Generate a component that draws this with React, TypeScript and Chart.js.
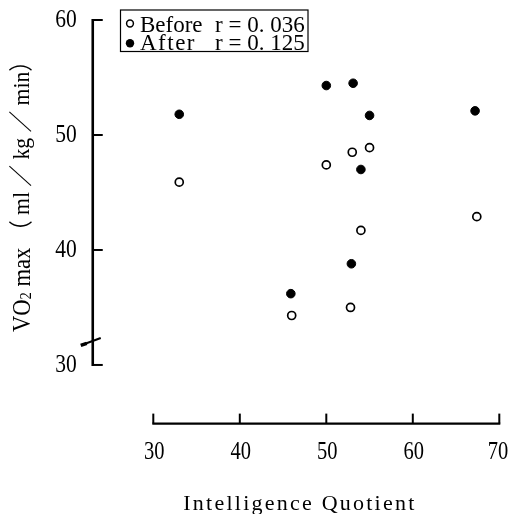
import React, { useEffect, useRef } from "react";
import { Chart, registerables } from "chart.js";

Chart.register(...registerables);

// ---- data ----
const IQ_BEFORE = [33, 46, 50, 52.8, 53, 54, 55, 67.4];
const VO2_BEFORE = [45.9, 34.3, 47.4, 35.0, 48.5, 41.7, 48.9, 42.9];
const IQ_AFTER = [33, 45.9, 50, 52.9, 53.1, 54, 55, 67.2];
const VO2_AFTER = [51.8, 36.2, 54.3, 38.8, 54.5, 47.0, 51.7, 52.1];
const X_TICKS = [30, 40, 50, 60, 70];
const Y_TICKS = [30, 40, 50, 60];
const SERIES_NAMES = ["Before", "After"];
const R_LABELS = ["r = 0. 036", "r = 0. 125"];
const X_TITLE = "Intelligence Quotient";
const Y_BREAK = 32;

const FONT = '"Liberation Serif", "DejaVu Serif", serif';
const CJK = '"Liberation Serif", "Noto Sans CJK JP", serif';

function fitText(
  ctx: CanvasRenderingContext2D,
  text: string,
  x: number,
  y: number,
  size: number,
  width: number,
  align: "left" | "center" | "right",
  baseline: CanvasTextBaseline
) {
  ctx.save();
  ctx.font = `${size}px ${FONT}`;
  ctx.textBaseline = baseline;
  ctx.textAlign = "left";
  const w = ctx.measureText(text).width;
  const s = width / w;
  let x0 = x;
  if (align === "center") x0 = x - width / 2;
  if (align === "right") x0 = x - width;
  ctx.translate(x0, y);
  ctx.scale(s, 1);
  ctx.fillText(text, 0, 0);
  ctx.restore();
}

function line(ctx: CanvasRenderingContext2D, x1: number, y1: number, x2: number, y2: number) {
  ctx.beginPath();
  ctx.moveTo(x1, y1);
  ctx.lineTo(x2, y2);
  ctx.stroke();
}

const axesPlugin = {
  id: "customAxes",
  afterDraw(chart: any) {
    const { ctx, chartArea: a, scales } = chart;
    const x = scales.x;
    const y = scales.y;
    ctx.save();
    ctx.strokeStyle = "#000";
    ctx.fillStyle = "#000";
    ctx.lineCap = "butt";

    // Y axis
    const xl = a.left;
    const yTop = y.getPixelForValue(Y_TICKS[Y_TICKS.length - 1]);
    const yBot = y.getPixelForValue(Y_TICKS[0]);
    ctx.lineWidth = 2.6;
    line(ctx, xl, yTop - 1, xl, yBot + 1);
    ctx.lineWidth = 2;
    for (const t of Y_TICKS) {
      const py = y.getPixelForValue(t);
      line(ctx, xl, py, xl + 10, py);
      const txt = String(t);
      ctx.font = `25px ${FONT}`;
      const w = ctx.measureText(txt).width * 0.86;
      fitText(ctx, txt, xl - 16, py, 25, w, "right", "middle");
    }
    // axis break mark
    const pb = y.getPixelForValue(Y_BREAK);
    ctx.lineWidth = 2;
    line(ctx, xl - 11, pb + 3, xl + 8, pb - 4);
    ctx.lineWidth = 3.5;
    line(ctx, xl - 12, pb + 3.5, xl - 6, pb + 1.5);

    // X axis (detached)
    const xa = a.bottom;
    const xL = x.getPixelForValue(X_TICKS[0]);
    const xR = x.getPixelForValue(X_TICKS[X_TICKS.length - 1]);
    ctx.lineWidth = 2.2;
    line(ctx, xL - 1, xa, xR + 1, xa);
    ctx.lineWidth = 2;
    for (const t of X_TICKS) {
      const px = x.getPixelForValue(t);
      line(ctx, px, xa, px, xa - 10);
      const txt = String(t);
      ctx.font = `25px ${FONT}`;
      const w = ctx.measureText(txt).width * 0.82;
      fitText(ctx, txt, Math.min(px + 1, 490), xa + 28.5, 25, w, "center", "middle");
    }
    // X title (letter-spaced)
    ctx.save();
    ctx.font = `22px ${FONT}`;
    const nat = ctx.measureText(X_TITLE).width;
    const ls = (231 - nat) / (X_TITLE.length - 1);
    (ctx as any).letterSpacing = `${ls}px`;
    ctx.textAlign = "left";
    ctx.textBaseline = "alphabetic";
    ctx.fillText(X_TITLE, 290.8 - 231 / 2, 502);
    ctx.restore();

    // Y title (rotated)
    ctx.save();
    ctx.translate(15, 183);
    ctx.rotate(-Math.PI / 2);
    const segs = [
      { t: "VO", f: `25px ${FONT}`, dy: 0 },
      { t: "2", f: `16px ${FONT}`, dy: 4 },
      { t: " max ", f: `25px ${FONT}`, dy: 0 },
      { t: "（ ml ／ kg ／ min）", f: `24px ${CJK}`, dy: 0 },
    ];
    let total = 0;
    const ws: number[] = [];
    for (const s of segs) {
      ctx.font = s.f;
      const w = ctx.measureText(s.t).width;
      ws.push(w);
      total += w;
    }
    const sc = 282 / total;
    ctx.scale(sc, 1);
    ctx.textBaseline = "middle";
    ctx.textAlign = "left";
    let cx = -total / 2;
    segs.forEach((s, i) => {
      ctx.font = s.f;
      ctx.fillText(s.t, cx, s.dy);
      cx += ws[i];
    });
    ctx.restore();

    // Legend box
    ctx.lineWidth = 1.2;
    ctx.strokeRect(112.5, 2, 187.5, 41.5);
    const rows = [23.7, 42];
    // markers
    ctx.lineWidth = 1.5;
    ctx.beginPath();
    ctx.arc(122, 15.5, 3.4, 0, Math.PI * 2);
    ctx.fillStyle = "#fff";
    ctx.fill();
    ctx.stroke();
    ctx.fillStyle = "#000";
    ctx.beginPath();
    ctx.arc(122, 35.3, 4.2, 0, Math.PI * 2);
    ctx.fill();
    ctx.font = `23px ${FONT}`;
    ctx.textAlign = "left";
    ctx.textBaseline = "alphabetic";
    SERIES_NAMES.forEach((n, i) => {
      ctx.save();
      if (i === 1) (ctx as any).letterSpacing = "1.5px";
      ctx.fillText(n, 132, rows[i]);
      ctx.restore();
      ctx.fillText(R_LABELS[i], 207, rows[i]);
    });

    ctx.restore();
  },
};

export default function App() {
  const ref = useRef<HTMLCanvasElement>(null);
  useEffect(() => {
    if (!ref.current) return;
    const chart = new Chart(ref.current, {
      type: "scatter",
      data: {
        datasets: [
          {
            label: SERIES_NAMES[0],
            data: IQ_BEFORE.map((v, i) => ({ x: v, y: VO2_BEFORE[i] })),
            pointRadius: 4,
            pointBackgroundColor: "#fff",
            pointBorderColor: "#000",
            pointBorderWidth: 1.7,
            clip: false as any,
          },
          {
            label: SERIES_NAMES[1],
            data: IQ_AFTER.map((v, i) => ({ x: v, y: VO2_AFTER[i] })),
            pointRadius: 4.3,
            pointBackgroundColor: "#000",
            pointBorderColor: "#000",
            pointBorderWidth: 1,
            clip: false as any,
          },
        ],
      },
      options: {
        animation: false,
        responsive: false,
        layout: { padding: { left: 84.75, right: 10.7, top: 12, bottom: 90.4 } },
        scales: {
          x: { type: "linear", min: 23, max: 70, display: false },
          y: { type: "linear", min: 24.9, max: 60, display: false },
        },
        plugins: { legend: { display: false }, tooltip: { enabled: false } },
      },
      plugins: [axesPlugin],
    });
    return () => chart.destroy();
  }, []);
  return (
    <canvas
      ref={ref}
      width={502}
      height={506}
      style={{ display: "block", width: 502, height: 506 }}
    />
  );
}
